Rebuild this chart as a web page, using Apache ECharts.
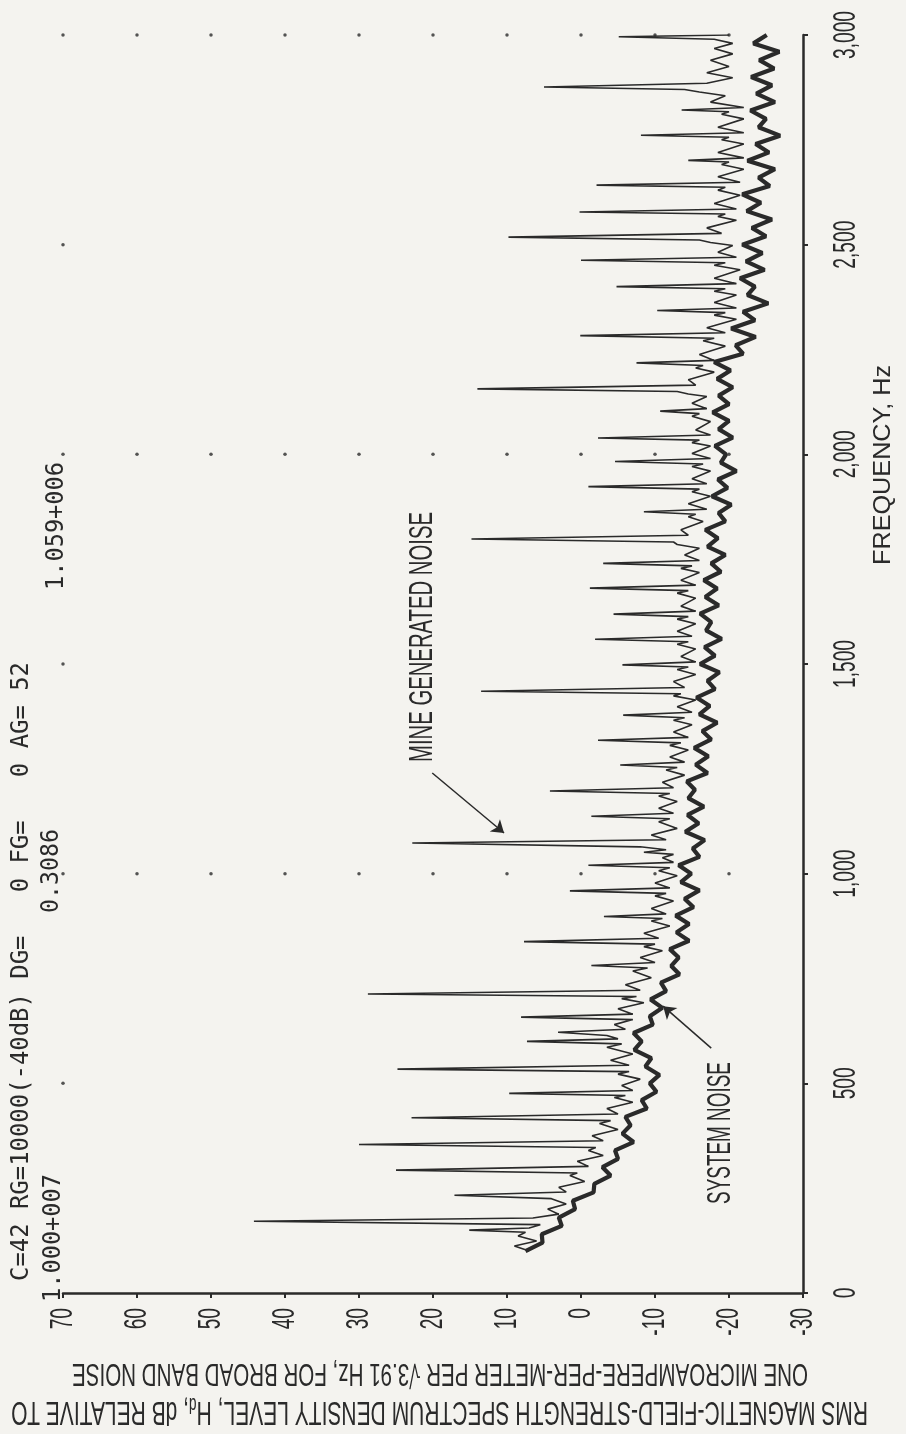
<!DOCTYPE html>
<html>
<head>
<meta charset="utf-8">
<title>Magnetic field strength spectrum</title>
<script src="https://cdn.jsdelivr.net/npm/echarts@6/dist/echarts.min.js"></script>
<style>
    html, body { margin: 0; padding: 0; background: #f4f3ef; }
    #chart { width: 906px; height: 1434px; }
</style>
</head>
<body>
<div id="chart"></div>
<script>
var freqTicks = [0, 500, 1000, 1500, 2000, 2500, 3000];
var freqTickLabels = ['0', '500', '1,000', '1,500', '2,000', '2,500', '3,000'];
var dbTicks = [70, 60, 50, 40, 30, 20, 10, 0, -10, -20, -30];

// [frequency Hz, level dB] - thick jagged floor
var systemNoise = [
    [100, 7.5], [120, 5.2], [140, 5.3], [160, 2.6], [180, 3.0], [200, 0.8], [220, 1.1], [240, -1.7],
    [260, -1.8], [280, -4.0], [300, -2.9], [320, -5.0], [340, -4.6], [360, -7.1], [380, -5.6], [400, -6.7],
    [420, -6.0], [440, -8.9], [460, -8.2], [480, -10.2], [500, -9.3], [520, -10.6], [540, -8.7], [560, -9.5],
    [580, -7.2], [600, -8.2], [620, -7.1], [640, -9.7], [660, -9.3], [680, -11.0], [700, -9.4], [720, -11.5],
    [740, -10.8], [760, -13.3], [780, -12.2], [800, -13.2], [820, -12.0], [840, -14.6], [860, -12.9], [880, -14.6],
    [900, -12.8], [920, -15.2], [940, -14.0], [960, -16.0], [980, -13.5], [1000, -14.9], [1020, -13.2], [1040, -16.0],
    [1060, -15.1], [1080, -16.7], [1100, -14.1], [1120, -15.9], [1140, -14.4], [1160, -16.6], [1180, -14.5], [1200, -15.4],
    [1220, -14.3], [1240, -17.1], [1260, -15.5], [1280, -17.2], [1300, -15.3], [1320, -17.6], [1340, -16.4], [1360, -18.4],
    [1380, -16.0], [1400, -17.4], [1420, -15.6], [1440, -18.1], [1460, -17.1], [1480, -18.7], [1500, -16.1], [1520, -18.1],
    [1540, -16.7], [1560, -19.0], [1580, -16.9], [1600, -17.6], [1620, -16.1], [1640, -18.6], [1660, -16.8], [1680, -18.4],
    [1700, -16.6], [1720, -18.9], [1740, -17.6], [1760, -19.5], [1780, -17.1], [1800, -18.5], [1820, -16.8], [1840, -19.5],
    [1860, -18.6], [1880, -20.3], [1900, -17.7], [1920, -19.8], [1940, -18.5], [1960, -21.0], [1980, -18.9], [2000, -19.6],
    [2020, -18.1], [2040, -20.5], [2060, -18.6], [2080, -20.0], [2100, -17.8], [2120, -20.0], [2140, -18.6], [2160, -20.5],
    [2180, -18.4], [2200, -20.2], [2220, -18.0], [2240, -21.9], [2260, -20.9], [2280, -23.6], [2300, -20.3], [2320, -23.5],
    [2340, -21.9], [2360, -25.3], [2380, -22.5], [2400, -23.5], [2420, -21.5], [2440, -24.8], [2460, -22.3], [2480, -24.5],
    [2500, -21.8], [2520, -25.0], [2540, -23.1], [2560, -25.8], [2580, -22.4], [2600, -24.3], [2620, -21.8], [2640, -25.5],
    [2660, -24.0], [2680, -26.2], [2700, -22.5], [2720, -25.4], [2740, -23.6], [2760, -26.9], [2780, -24.0], [2800, -25.0],
    [2820, -22.9], [2840, -26.2], [2860, -23.7], [2880, -25.8], [2900, -23.0], [2920, -26.1], [2940, -24.1], [2960, -26.8],
    [2980, -23.3], [3000, -25.1]
];

// [frequency Hz, level dB] - thin trace with the harmonic lines
var mineNoise = [
    [100, 7.0], [112, 9.0], [124, 6.0], [136, 8.5], [145, 7.5], [150, 15.1], [155, 7.0], [163, 5.5],
    [171, 44.2], [179, 6.5], [188, 3.0], [200, 4.5], [212, 2.0], [225, 4.0], [233, 17.1], [241, 2.0],
    [252, 3.0], [266, -0.5], [280, 1.5], [286, 0.5], [293, 25.0], [302, -1.0], [314, 0.5], [328, -3.0],
    [340, -1.0], [347, -2.0], [354, 30.0], [363, -3.0], [375, -1.5], [390, -5.0], [404, -2.5], [411, -4.0],
    [418, 22.9], [427, -5.0], [440, -3.5], [455, -7.0], [466, -4.5], [471, -6.0], [476, 9.7], [483, -7.0],
    [495, -5.5], [510, -8.0], [522, -5.0], [528, -6.5], [534, 24.8], [543, -6.5], [555, -4.0], [570, -7.0],
    [586, -3.5], [594, -5.5], [600, 7.3], [606, -5.0], [614, -3.5], [622, 3.1], [629, -6.0], [640, -4.5],
    [652, -7.0], [658, 8.1], [665, -7.0], [678, -5.0], [692, -8.5], [702, -5.5], [707, -7.5], [713, 28.8],
    [722, -8.0], [735, -6.0], [752, -9.5], [768, -7.0], [775, -9.0], [781, -1.4], [788, -10.0], [800, -8.0],
    [816, -11.0], [826, -8.5], [832, -10.0], [838, 7.7], [846, -10.5], [858, -8.5], [875, -12.0], [887, -9.5],
    [893, -11.0], [898, -3.1], [904, -11.5], [917, -9.5], [935, -12.5], [947, -10.0], [953, -11.5], [959, 1.5],
    [966, -12.0], [978, -10.0], [995, -13.0], [1007, -10.5], [1014, -12.0], [1020, -1.0], [1027, -12.5], [1038, -11.0],
    [1046, -12.5], [1051, -8.5], [1057, -11.5], [1064, -8.0], [1073, 22.8], [1081, -11.5], [1092, -9.5], [1108, -13.0],
    [1124, -10.5], [1131, -12.0], [1137, -1.4], [1144, -12.5], [1156, -10.5], [1172, -13.0], [1185, -10.5], [1191, -12.0],
    [1197, 4.2], [1205, -12.5], [1218, -11.0], [1235, -14.0], [1247, -11.5], [1253, -13.0], [1259, -5.3], [1266, -14.0],
    [1278, -12.0], [1295, -14.5], [1306, -12.0], [1312, -13.5], [1318, -2.3], [1325, -14.5], [1338, -12.5], [1355, -15.0],
    [1366, -12.5], [1372, -14.0], [1378, -5.7], [1385, -15.0], [1398, -13.0], [1414, -15.5], [1424, -12.5], [1429, -13.5],
    [1435, 13.5], [1444, -14.0], [1458, -12.5], [1475, -15.5], [1487, -13.0], [1493, -14.5], [1498, -5.6], [1505, -15.5],
    [1518, -13.5], [1536, -15.5], [1547, -13.0], [1553, -14.5], [1559, -1.9], [1566, -15.0], [1578, -13.0], [1596, -15.5],
    [1607, -13.0], [1613, -14.5], [1619, -4.4], [1626, -15.5], [1638, -13.5], [1657, -15.5], [1669, -13.0], [1675, -14.5],
    [1681, -1.2], [1688, -15.5], [1700, -13.5], [1718, -16.0], [1728, -13.5], [1734, -15.0], [1740, -3.0], [1747, -16.0],
    [1760, -14.0], [1776, -16.0], [1785, -13.0], [1791, -12.5], [1798, 14.8], [1807, -14.5], [1820, -13.5], [1840, -16.5],
    [1851, -14.5], [1857, -15.5], [1863, -8.5], [1869, -17.0], [1882, -14.5], [1900, -17.5], [1911, -15.0], [1917, -16.0],
    [1923, -1.0], [1930, -17.0], [1942, -15.0], [1960, -17.5], [1971, -15.0], [1977, -16.5], [1983, -4.6], [1990, -17.5],
    [2002, -15.0], [2020, -17.5], [2028, -15.0], [2034, -16.0], [2039, -2.3], [2046, -17.5], [2058, -15.5], [2078, -17.5],
    [2091, -15.0], [2097, -16.0], [2103, -10.7], [2109, -17.0], [2122, -15.0], [2138, -17.0], [2144, -14.5], [2150, -13.0],
    [2156, 14.0], [2165, -15.5], [2178, -14.5], [2196, -18.0], [2206, -15.5], [2212, -16.5], [2218, -7.5], [2224, -18.0],
    [2238, -16.0], [2258, -19.5], [2271, -16.5], [2277, -18.0], [2283, 0.1], [2290, -19.5], [2302, -17.0], [2322, -21.0],
    [2332, -18.0], [2338, -19.5], [2343, -10.3], [2349, -21.0], [2362, -18.0], [2380, -21.0], [2389, -18.0], [2395, -19.5],
    [2400, -4.8], [2407, -21.0], [2420, -18.0], [2440, -21.5], [2451, -18.0], [2457, -19.5], [2463, 0.0], [2470, -21.0],
    [2482, -18.5], [2498, -20.5], [2505, -17.5], [2511, -16.0], [2518, 9.8], [2527, -19.0], [2540, -17.0], [2558, -21.0],
    [2567, -18.5], [2573, -19.5], [2578, 0.2], [2585, -21.0], [2598, -18.0], [2618, -21.5], [2630, -18.5], [2637, -19.5],
    [2642, -2.1], [2649, -21.5], [2662, -18.5], [2680, -22.0], [2691, -19.0], [2697, -20.0], [2701, -14.5], [2707, -22.0],
    [2720, -18.5], [2740, -22.0], [2750, -19.0], [2756, -20.0], [2761, -8.1], [2767, -22.0], [2780, -18.5], [2800, -22.0],
    [2811, -19.0], [2817, -20.0], [2821, -13.6], [2827, -22.0], [2840, -17.5], [2855, -19.5], [2864, -16.0], [2870, -14.0],
    [2876, 5.0], [2885, -17.0], [2898, -20.5], [2910, -17.0], [2925, -20.0], [2940, -17.5], [2955, -20.5], [2968, -18.0],
    [2980, -20.5], [2990, -18.0], [2996, -5.1], [3000, -20.0]
];

var ink = '#2a2a2a';

function toXY(list) {
    return list.map(function (p) { return [p[1], p[0]]; });
}

// plotter dots: full rows every 1000 Hz, the 70 dB column every 500 Hz
var gridDots = [];
dbTicks.forEach(function (db) {
    freqTicks.forEach(function (f) {
        if (db === -30 || f === 0) return;
        if (f % 1000 === 0 || db === 70) gridDots.push([db, f]);
    });
});

var measureCtx = document.createElement('canvas').getContext('2d');
function squeeze(text, font, length) {
    measureCtx.font = font;
    return length / measureCtx.measureText(text).width;
}

// text written along a direction, squeezed to the length it has on the sheet
function note(text, x, y, rotation, font, length, plain) {
    return {
        type: 'text',
        x: x,
        y: y,
        rotation: rotation,
        scaleX: squeeze(plain || text, font, length),
        silent: true,
        style: {
            text: text,
            font: font,
            fill: ink,
            textAlign: 'left',
            textVerticalAlign: 'middle',
            rich: { sub: { font: '22px "Liberation Sans"', padding: [14, 0, 0, 0] } }
        }
    };
}

// narrow upright tick figures like the plotter lettering
var tickFont = '32px "Liberation Sans"';
function tickText(text, x, y, align) {
    return {
        type: 'text',
        x: x,
        y: y,
        rotation: Math.PI / 2,
        scaleX: 0.6,
        silent: true,
        style: { text: text, font: tickFont, fill: ink, textAlign: align, textVerticalAlign: 'middle' }
    };
}

var up = Math.PI / 2;
var mono = '24px "DejaVu Sans Mono"';
var caption = 'RMS MAGNETIC-FIELD-STRENGTH SPECTRUM DENSITY LEVEL, H{sub|d}, dB RELATIVE TO';

var chart = echarts.init(document.getElementById('chart'));
chart.setOption({
    backgroundColor: '#f4f3ef',
    animation: false,
    grid: { left: 63, right: 103, top: 35, bottom: 141 },
    xAxis: {
        type: 'value',
        min: -30,
        max: 70,
        interval: 10,
        inverse: true,
        axisLine: { onZero: false, lineStyle: { color: ink, width: 2.5 } },
        axisTick: { length: 5, lineStyle: { color: ink, width: 2 } },
        axisLabel: { show: false },
        splitLine: { show: false }
    },
    yAxis: {
        type: 'value',
        position: 'right',
        min: 0,
        max: 3000,
        interval: 500,
        axisLine: { show: true, onZero: false, lineStyle: { color: ink, width: 2.5 } },
        axisTick: { show: true, length: 5, lineStyle: { color: ink, width: 2 } },
        axisLabel: { show: false },
        splitLine: { show: false }
    },
    series: [
        {
            type: 'scatter',
            data: gridDots,
            symbolSize: 3.5,
            itemStyle: { color: ink },
            silent: true,
            z: 1
        },
        {
            name: 'mine generated noise',
            type: 'line',
            data: toXY(mineNoise),
            showSymbol: false,
            lineStyle: { color: ink, width: 1.6 },
            z: 3
        },
        {
            name: 'system noise',
            type: 'line',
            data: toXY(systemNoise),
            showSymbol: false,
            lineStyle: { color: ink, width: 4.2 },
            z: 4,
            markLine: {
                silent: true,
                symbol: ['none', 'arrow'],
                symbolSize: 12,
                label: { show: false },
                lineStyle: { color: ink, width: 1.5, type: 'solid' },
                data: [
                    [{ coord: [20.1, 1240] }, { coord: [10.4, 1097] }],
                    [{ coord: [-17.6, 584] }, { coord: [-11.1, 684] }]
                ]
            }
        }
    ]
});

// tick figures placed through the axes' own scales
var texts = [];
dbTicks.forEach(function (db) {
    var p = chart.convertToPixel({ gridIndex: 0 }, [db, 0]);
    texts.push(tickText(String(db), p[0], p[1] + 15, 'right'));
});
freqTicks.forEach(function (f, i) {
    var p = chart.convertToPixel({ gridIndex: 0 }, [-30, f]);
    texts.push(tickText(freqTickLabels[i], p[0] + 43, p[1], 'center'));
});

texts.push(
    note('C=42 RG=10000(-40dB) DG=   0 FG=   0 AG= 52', 22, 1281, up, mono, 619),
    note('1.000+007', 54, 1302, up, mono, 128),
    note('0.3086', 52, 913, up, mono, 84),
    note('1.059+006', 57, 590, up, mono, 128),
    note('MINE GENERATED NOISE', 423, 762, up, '33px "Liberation Sans"', 250),
    note('SYSTEM NOISE', 721, 1204, up, '34px "Liberation Sans"', 142),
    note('FREQUENCY, Hz', 884, 565, up, '23px "Liberation Sans"', 200),
    note('ONE MICROAMPERE-PER-METER PER \u221A3.91 Hz, FOR BROAD BAND NOISE', 808, 1373, Math.PI,
        '32px "Liberation Sans"', 736),
    note(caption, 868, 1411, Math.PI, '34px "Liberation Sans"', 861,
        'RMS MAGNETIC-FIELD-STRENGTH SPECTRUM DENSITY LEVEL, Hd, dB RELATIVE TO')
);

chart.setOption({ graphic: texts });
</script>
</body>
</html>
